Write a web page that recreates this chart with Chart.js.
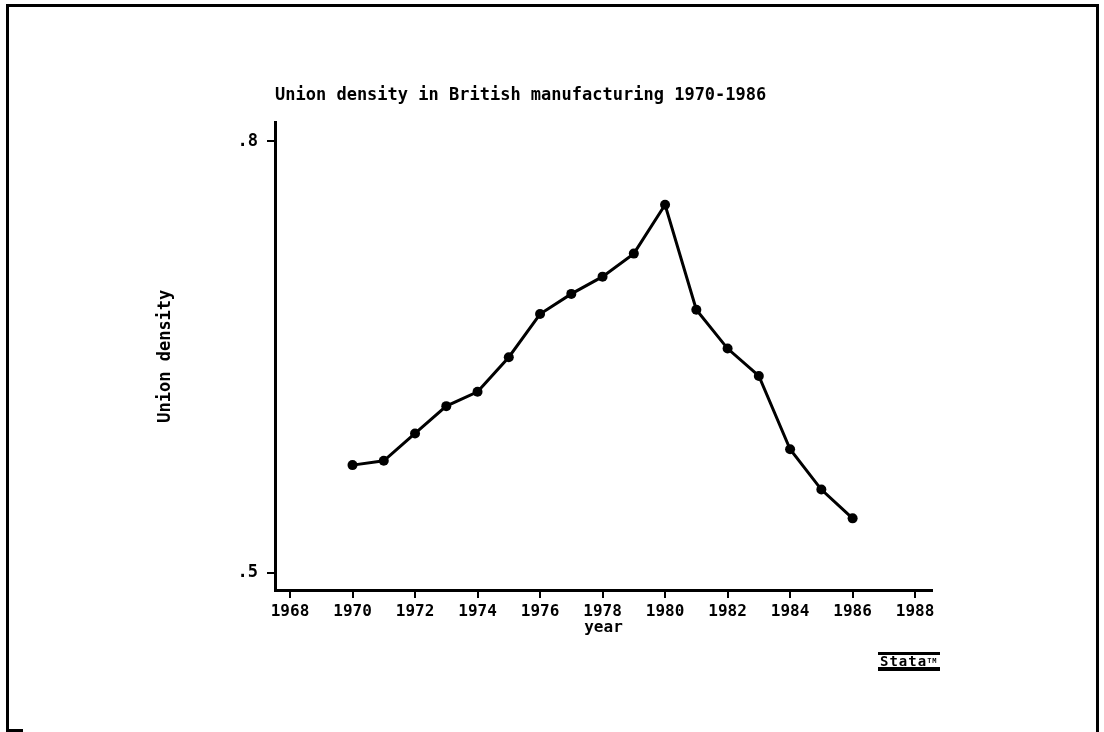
<!DOCTYPE html>
<html>
<head>
<meta charset="utf-8">
<title>Union density in British manufacturing 1970-1986</title>
<script src="https://cdn.jsdelivr.net/npm/chart.js@4/dist/chart.umd.min.js"></script>
<style>
  html, body { margin: 0; padding: 0; background: #fff; }
  #wrap { position: relative; width: 1104px; height: 732px; overflow: hidden; }
  #frame {
    position: absolute; left: 6px; top: 4px; width: 1087px; height: 740px;
    border: 3px solid #000; border-bottom: none;
  }
  #stub { position: absolute; left: 6px; top: 729px; width: 17px; height: 3px; background: #000; }
  #chart { position: absolute; left: 0; top: 0; }
  #logo {
    position: absolute; left: 878px; top: 652px;
    font: bold 14px "DejaVu Sans Mono", monospace; letter-spacing: 1px;
    color: #000; border-top: 3px solid #000; border-bottom: 4px solid #000;
    line-height: 12px; padding: 0 2px;
  }
  #logo sup { font-size: 7px; vertical-align: top; }
</style>
</head>
<body>
<div id="wrap">
  <div id="frame"></div>
  <div id="stub"></div>
  <canvas id="chart" width="1104" height="732"></canvas>
  <div id="logo">Stata<sup>TM</sup></div>
</div>
<script>
// values
var years = [1970, 1971, 1972, 1973, 1974, 1975, 1976, 1977, 1978,
             1979, 1980, 1981, 1982, 1983, 1984, 1985, 1986];
var density = [0.575, 0.578, 0.597, 0.616, 0.626, 0.650, 0.680, 0.694, 0.706,
               0.722, 0.756, 0.683, 0.656, 0.637, 0.586, 0.558, 0.538];
var xTicks = [1968, 1970, 1972, 1974, 1976, 1978, 1980, 1982, 1984, 1986, 1988];
var yTicks = [0.5, 0.8];

var font = { family: '"DejaVu Sans Mono", monospace', weight: 'bold' };

var points = years.map(function(y, i) { return { x: y, y: density[i] }; });

new Chart(document.getElementById('chart'), {
  type: 'line',
  data: {
    datasets: [{
      data: points,
      borderColor: '#000',
      backgroundColor: '#000',
      borderWidth: 3,
      pointRadius: 5,
      pointHoverRadius: 5,
      pointBorderWidth: 0,
      tension: 0
    }]
  },
  options: {
    responsive: false,
    animation: false,
    layout: { padding: { left: 150, right: 172, top: 60, bottom: 82 } },
    plugins: {
      legend: { display: false },
      tooltip: { enabled: false },
      title: {
        display: true,
        text: 'Union density in British manufacturing 1970-1986',
        align: 'start',
        fullSize: false,
        color: '#000',
        font: Object.assign({ size: 17 }, font),
        padding: { top: 25, bottom: 17 }
      }
    },
    scales: {
      x: {
        type: 'linear',
        min: 1967.52,
        max: 1988.54,
        afterBuildTicks: function(scale) {
          scale.ticks = xTicks.map(function(v) { return { value: v }; });
        },
        afterFit: function(scale) { scale.height = 60; },
        ticks: {
          color: '#000',
          padding: 4,
          maxRotation: 0,
          autoSkip: false,
          font: Object.assign({ size: 16 }, font),
          callback: function(v) { return String(v); }
        },
        grid: { drawOnChartArea: false, drawTicks: true, tickLength: 8, color: '#000', lineWidth: 2 },
        border: { display: true, color: '#000', width: 3 },
        title: {
          display: true, text: 'year', color: '#000',
          font: Object.assign({ size: 16 }, font),
          padding: { top: 0, bottom: 13 }
        }
      },
      y: {
        min: 0.4882,
        max: 0.8132,
        afterBuildTicks: function(scale) {
          scale.ticks = yTicks.map(function(v) { return { value: v }; });
        },
        afterFit: function(scale) { scale.width = 125; },
        ticks: {
          color: '#000',
          padding: 9,
          font: Object.assign({ size: 17 }, font),
          callback: function(v) { return String(v).replace(/^0/, ''); }
        },
        grid: { drawOnChartArea: false, drawTicks: true, tickLength: 8, color: '#000', lineWidth: 2 },
        border: { display: true, color: '#000', width: 3 },
        title: {
          display: true, text: 'Union density', color: '#000',
          font: Object.assign({ size: 17 }, font),
          padding: { top: 5, bottom: 0 }
        }
      }
    }
  }
});
</script>
</body>
</html>
